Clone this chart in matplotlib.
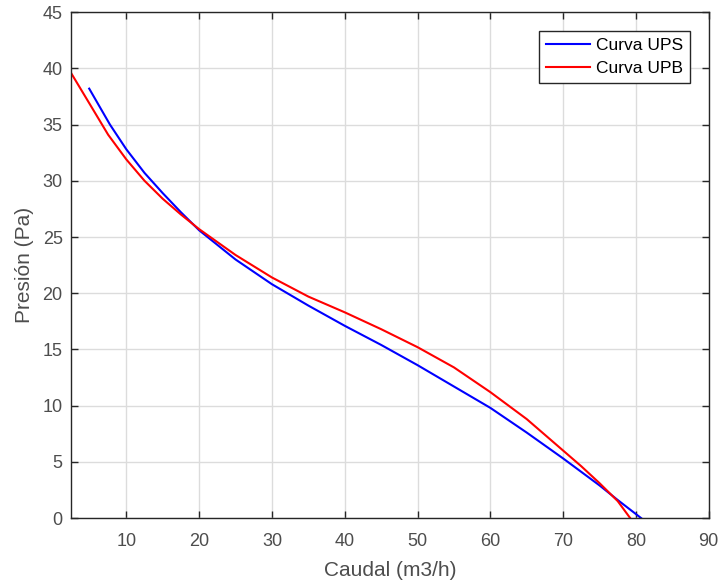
import matplotlib
matplotlib.use("Agg")
import matplotlib.pyplot as plt

# curva UPS (azul)
ups_q=[4.9, 7.75, 10, 12.5, 15, 17.5, 20, 25, 30, 35, 40, 45, 50, 55, 60, 65, 70, 75, 77.5, 80.7]
ups_p=[38.2, 35.0, 32.8, 30.7, 28.9, 27.2, 25.6, 23.0, 20.8, 18.9, 17.1, 15.4, 13.6, 11.7, 9.8, 7.6, 5.3, 2.9, 1.6, 0.0]

# curva UPB (roja)
upb_q=[2.4, 5, 7.5, 10, 12.5, 15, 17.5, 20, 25, 30, 35, 40, 45, 50, 55, 60, 65, 70, 72.5, 75, 77.5, 79.2]
upb_p=[39.6, 36.8, 34.1, 31.9, 30.0, 28.4, 27.0, 25.7, 23.4, 21.4, 19.7, 18.3, 16.8, 15.2, 13.4, 11.2, 8.8, 6.0, 4.6, 3.1, 1.5, 0.0]

xticks=[10, 20, 30, 40, 50, 60, 70, 80, 90]
yticks=[0, 5, 10, 15, 20, 25, 30, 35, 40, 45]

plt.rcParams["font.family"]=["Liberation Sans", "DejaVu Sans"]

fig=plt.figure(figsize=(7.21,5.81),dpi=100)
ax=fig.add_axes([0.0985,0.1084,0.8845,0.8706])

ax.plot(ups_q,ups_p,color="#0000ff",lw=1.5,label="Curva UPS")
ax.plot(upb_q,upb_p,color="#ff0000",lw=1.5,label="Curva UPB")

ax.set_xlim(2.4,90)
ax.set_ylim(0,45)
ax.set_xticks(xticks)
ax.set_yticks(yticks)
ax.grid(True,color="#dcdcdc",lw=1.0)
ax.set_axisbelow(True)

for s in ax.spines.values():
    s.set_color("#262626")
    s.set_linewidth(1.0)
ax.tick_params(direction="in",length=5,width=1,colors="#262626",labelcolor="#4d4d4d",
               labelsize=13,top=True,right=True,pad=6)
ax.tick_params(axis="x",pad=10.5)

ax.set_xlabel("Caudal (m3/h)",fontsize=15,color="#4d4d4d",labelpad=8)
ax.set_ylabel("Presión (Pa)",fontsize=15,color="#4d4d4d",labelpad=6)

leg=ax.legend(loc="upper right",bbox_to_anchor=(0.970,0.9625),borderaxespad=0,fontsize=12.5,
              fancybox=False,framealpha=1,edgecolor="#262626",handlelength=2.55,borderpad=0.4,
              labelspacing=0.45,handletextpad=0.3)
leg.get_frame().set_linewidth(1.0)

fig.savefig("out.png",dpi=100)
